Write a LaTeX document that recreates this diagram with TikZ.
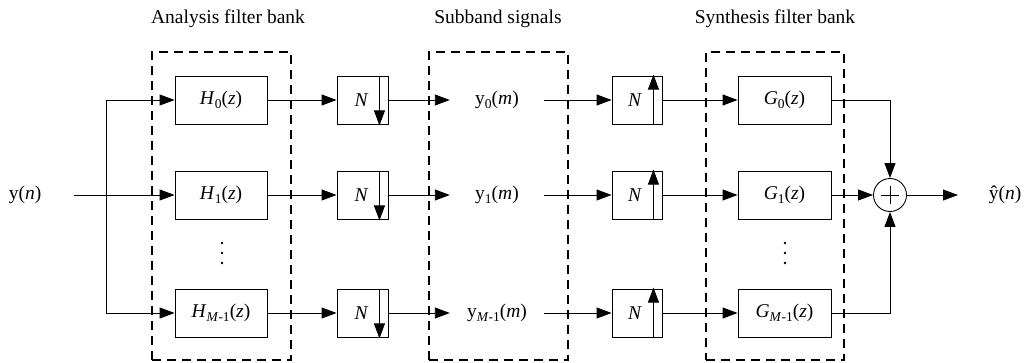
\documentclass[tikz,border=0pt]{standalone}
\usepackage{fontspec}
\setmainfont{Liberation Serif}
\usetikzlibrary{arrows.meta}
\newcommand{\sbs}[1]{\raisebox{-0.2em}{\fontsize{13.5}{13.5}\selectfont #1}}
\begin{document}
\begin{tikzpicture}[x=1pt,y=-1pt,
  every node/.style={font=\fontsize{19.5}{22}\selectfont, inner sep=0pt},
  blk/.style={draw, line width=0.9pt, minimum height=48pt},
  hbox/.style={blk, minimum width=92pt},
  nbox/.style={blk, minimum width=51pt},
  dashbox/.style={draw, line width=1.8pt, dash pattern=on 9pt off 6pt, minimum width=139pt, minimum height=308pt},
  arr/.style={line width=0.9pt, -{Triangle[length=15pt,width=11pt]}},
  ln/.style={line width=0.9pt},
  sumc/.style={draw, circle, line width=0.9pt, minimum size=33pt},
  dotf/.style={fill, circle, minimum size=2.8pt}
]
\useasboundingbox (0,0) rectangle (1027,362);
% titles
\node (t1) at (228,19) {Analysis filter bank};
\node (t2) at (498,19) {Subband signals};
\node (t3) at (775,19) {Synthesis filter bank};
% dashed groups
\node[dashbox] (d1) at (221.5,206) {};
\node[dashbox] (d2) at (498.5,206) {};
\node[dashbox, minimum width=138pt] (d3) at (775,206) {};
% input
\node (yin) at (25,195) {y(\textit{n})};
\coordinate (ys) at (74,195);
\coordinate (bt) at (106,100);
\coordinate (bb) at (106,313);
% analysis filters
\node[hbox] (H0) at (221,100) {\textit{H}\sbs{0}(\textit{z})};
\node[hbox] (H1) at (221,195) {\textit{H}\sbs{1}(\textit{z})};
\node[hbox] (HM) at (221,313) {\textit{H}\sbs{\textit{M}-1}(\textit{z})};
\node[dotf] (hd1) at (222,243) {};
\node[dotf] (hd2) at (222,253) {};
\node[dotf] (hd3) at (222,263) {};
% downsamplers
\node[nbox] (D0) at (362.5,100) {\textit{N}\hspace*{2pt}};
\node[nbox] (D1) at (362.5,195) {\textit{N}\hspace*{2pt}};
\node[nbox] (DM) at (362.5,313) {\textit{N}\hspace*{2pt}};
% subband signals
\node[minimum width=94pt] (s0) at (497,100) {y\sbs{0}(\textit{m})};
\node[minimum width=94pt] (s1) at (497,195) {y\sbs{1}(\textit{m})};
\node[minimum width=94pt] (sM) at (497,313) {y\sbs{\textit{M}-1}(\textit{m})};
% upsamplers
\node[nbox, minimum width=50pt] (U0) at (637,100) {\textit{N}\hspace*{4pt}};
\node[nbox, minimum width=50pt] (U1) at (637,195) {\textit{N}\hspace*{4pt}};
\node[nbox, minimum width=50pt] (UM) at (637,313) {\textit{N}\hspace*{4pt}};
% synthesis filters
\node[hbox, minimum width=93pt] (G0) at (784.5,100) {\textit{G}\sbs{0}(\textit{z})};
\node[hbox, minimum width=93pt] (G1) at (784.5,195) {\textit{G}\sbs{1}(\textit{z})};
\node[hbox, minimum width=93pt] (GM) at (784.5,313) {\textit{G}\sbs{\textit{M}-1}(\textit{z})};
\node[dotf] (gd1) at (785,243) {};
\node[dotf] (gd2) at (785,253) {};
\node[dotf] (gd3) at (785,263) {};
% sum
\node[sumc] (sum) at (890,195) {};
\draw[ln] ([xshift=-9pt]sum.center) -- ([xshift=9pt]sum.center);
\draw[ln] ([yshift=-9pt]sum.center) -- ([yshift=9pt]sum.center);
\coordinate (yo) at (958,195);
\node (yout) at (1005,195) {ŷ(\textit{n})};
% arrows inside rate changers
\foreach \n in {D0,D1,DM}{
  \draw[arr] ([xshift=-9pt]\n.north east) -- ([xshift=-9pt,yshift=-1pt]\n.south east);
}
\foreach \n in {U0,U1,UM}{
  \draw[arr] ([xshift=-9pt]\n.south east) -- ([xshift=-9pt,yshift=1pt]\n.north east);
}
% connectors
\draw[arr] (ys) -- (H1.west);
\draw[ln] (bt) -- (bb);
\draw[arr] (bt) -- (H0.west);
\draw[arr] (bb) -- (HM.west);
\draw[arr] (H0.east) -- (D0.west);
\draw[arr] (H1.east) -- (D1.west);
\draw[arr] (HM.east) -- (DM.west);
\draw[arr] (D0.east) -- (s0.west);
\draw[arr] (D1.east) -- (s1.west);
\draw[arr] (DM.east) -- (sM.west);
\draw[arr] (s0.east) -- (U0.west);
\draw[arr] (s1.east) -- (U1.west);
\draw[arr] (sM.east) -- (UM.west);
\draw[arr] (U0.east) -- (G0.west);
\draw[arr] (U1.east) -- (G1.west);
\draw[arr] (UM.east) -- (GM.west);
\draw[arr] (G0.east) -| (sum.north);
\draw[arr] (G1.east) -- (sum.west);
\draw[arr] (GM.east) -| (sum.south);
\draw[arr] (sum.east) -- (yo);
\end{tikzpicture}
\end{document}
